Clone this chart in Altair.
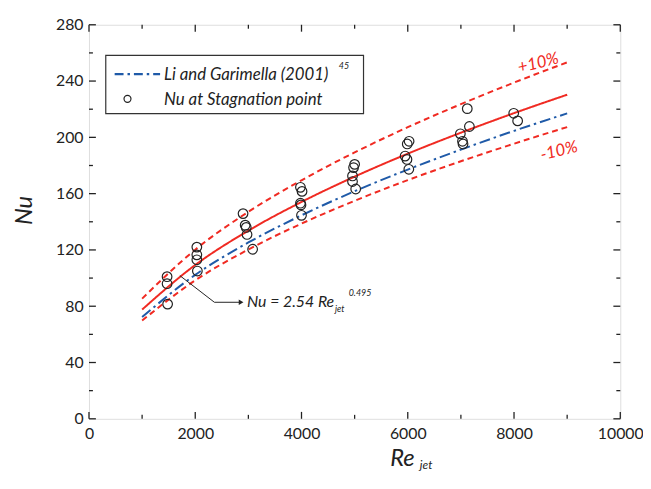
import altair as alt
import pandas as pd

# ---------------- data ----------------
curve_re = [1000, 2000, 3000, 4000, 5000, 6000, 7000, 8000, 9000]
nu_fit = [77.6, 109.3, 133.7, 154.1, 172.1, 188.4, 203.3, 217.2, 230.3]
nu_plus10 = [85.4, 120.2, 147.1, 169.5, 189.3, 207.2, 223.6, 238.9, 253.3]
nu_minus10 = [69.8, 98.4, 120.3, 138.7, 154.9, 169.6, 183.0, 195.5, 207.3]
nu_li = [72.3, 102.3, 125.3, 144.6, 161.7, 177.1, 191.3, 204.6, 217.0]

pts_re = [1470, 1470, 1480,
          2030, 2030, 2030, 2040,
          2900, 2940, 2960, 2975, 3080,
          3980, 4010, 3980, 3990, 4000,
          5000, 4980, 4960, 4960, 5020,
          6025, 5990, 5950, 5985, 6020,
          6990, 7030, 7040, 7120, 7160,
          7994, 8068]
pts_nu = [101.0, 96.0, 81.5,
          122.0, 116.5, 113.0, 105.0,
          145.8, 137.6, 136.0, 131.0, 120.5,
          164.5, 161.6, 153.2, 152.0, 144.6,
          180.8, 178.5, 172.6, 168.6, 163.3,
          197.2, 195.3, 186.7, 184.3, 177.3,
          202.5, 197.2, 195.3, 220.4, 207.7,
          217.1, 211.7]

x_major = [0, 2000, 4000, 6000, 8000, 10000]
x_minor = [1000, 3000, 5000, 7000, 9000]
y_major = [0, 40, 80, 120, 160, 200, 240, 280]
y_minor = [20, 60, 100, 140, 180, 220, 260]

W, H = 538, 399
FONT = "Lato"
RED = "#f02a22"
BLUE = "#1f5aa8"

xs = alt.Scale(domain=[0, 10000], nice=False, zero=False)
ys = alt.Scale(domain=[0, 280], nice=False, zero=False)

curves = pd.DataFrame({"Re": curve_re, "fit": nu_fit, "plus": nu_plus10,
                       "minus": nu_minus10, "li": nu_li})
pts = pd.DataFrame({"Re": pts_re, "Nu": pts_nu})

base_axis_x = alt.Axis(values=x_major, ticks=False, domain=False, grid=False,
                       labelFont=FONT, labelFontSize=16, labelColor="#222",
                       labelPadding=7, title=None, format="d", labelFlush=False)
base_axis_y = alt.Axis(values=y_major, ticks=False, domain=False, grid=False,
                       labelFont=FONT, labelFontSize=16, labelColor="#222",
                       labelPadding=6, title=None, format="d", labelFlush=False)

def curve(col, color, dash, axes=False):
    return alt.Chart(curves).mark_line(
        color=color, strokeWidth=2, strokeDash=dash, interpolate="monotone"
    ).encode(
        x=alt.X("Re:Q", scale=xs, axis=base_axis_x if axes else None),
        y=alt.Y(f"{col}:Q", scale=ys, axis=base_axis_y if axes else None),
    )

fit = curve("fit", RED, [1, 0], axes=True)
plus = curve("plus", RED, [6, 4])
minus = curve("minus", RED, [6, 4])
li = curve("li", BLUE, [11, 4, 2.5, 4])

points = alt.Chart(pts).mark_point(
    shape="circle", filled=False, size=95, stroke="#222", strokeWidth=1.2, opacity=1
).encode(x=alt.X("Re:Q", scale=xs, axis=None), y=alt.Y("Nu:Q", scale=ys, axis=None))

# inward ticks on all four sides
def xticks(vals, y0, y1):
    return alt.Chart(pd.DataFrame({"Re": vals})).mark_rule(color="#222", strokeWidth=1.3).encode(
        x=alt.X("Re:Q", scale=xs, axis=None), y=alt.value(y0), y2=alt.value(y1))

def yticks(vals, x0, x1):
    return alt.Chart(pd.DataFrame({"Nu": vals})).mark_rule(color="#222", strokeWidth=1.3).encode(
        y=alt.Y("Nu:Q", scale=ys, axis=None), x=alt.value(x0), x2=alt.value(x1))

ticks = [
    xticks(x_major, H, H - 7), xticks(x_minor, H, H - 4),
    xticks(x_major, 0, 7), xticks(x_minor, 0, 4),
    yticks(y_major, 0, 7), yticks(y_minor, 0, 4),
    yticks(y_major, W, W - 7), yticks(y_minor, W, W - 4),
]

# legend box
leg_box = alt.Chart(pd.DataFrame({"a": [0]})).mark_rect(
    fill="white", stroke="#333", strokeWidth=1.2
).encode(x=alt.value(17), x2=alt.value(278), y=alt.value(31), y2=alt.value(90))
leg_line = alt.Chart(pd.DataFrame({"a": [0]})).mark_rule(
    color=BLUE, strokeWidth=2.2, strokeDash=[9, 4, 2.5, 4]
).encode(x=alt.value(26), x2=alt.value(72), y=alt.value(50))
leg_pt = alt.Chart(pd.DataFrame({"a": [0]})).mark_point(
    shape="circle", filled=False, size=50, stroke="#222", strokeWidth=1.2, opacity=1
).encode(x=alt.value(39), y=alt.value(75))

def txt(s, x, y, size=17, italic=True, color="#222", align="left", angle=0, baseline="middle"):
    kw = dict(font=FONT, fontSize=size, color=color, align=align, baseline=baseline)
    if italic:
        kw["fontStyle"] = "italic"
    if angle:
        kw["angle"] = angle
    return alt.Chart(pd.DataFrame({"t": [s]})).mark_text(**kw).encode(
        text="t:N", x=alt.value(x), y=alt.value(y))

texts = [
    txt("Li and Garimella (2001)", 76, 51),
    txt("45", 253, 42, size=9),
    txt("Nu at Stagnation point", 76, 76),
    txt("+10%", 455, 39, color=RED, align="center", angle=346),
    txt("-10%", 476, 128, color=RED, align="center", angle=346),
    txt("Nu = 2.54 Re", 160, 281, size=16),
    txt("jet", 249, 288, size=9),
    txt("0.495", 263, 272, size=9),
    txt("Re", 305, 440, size=24, align="left"),
    txt("jet", 335, 446, size=12),
    txt("Nu", -65, 188, size=24, align="center", angle=270),
]

# annotation arrow
arrow_pts = pd.DataFrame({"px": [92, 127, 152], "py": [254, 281, 281], "o": [0, 1, 2]})
arrow_line = alt.Chart(arrow_pts).mark_line(color="#222", strokeWidth=1).encode(
    x=alt.X("px:Q", scale=alt.Scale(domain=[0, W], nice=False, zero=False), axis=None),
    y=alt.Y("py:Q", scale=alt.Scale(domain=[0, H], nice=False, zero=False, reverse=True), axis=None),
    order="o:Q")
arrow_head = alt.Chart(pd.DataFrame({"a": [0]})).mark_point(
    shape="triangle-right", filled=True, size=30, color="#222", opacity=1
).encode(x=alt.value(154), y=alt.value(281))

chart = alt.layer(
    fit, plus, minus, li, points, *ticks,
    leg_box, leg_line, leg_pt, arrow_line, arrow_head, *texts
).resolve_scale(x="independent", y="independent").properties(
    width=W, height=H,
    autosize=alt.AutoSizeParams(type="none"),
    padding={"left": 82, "top": 14, "right": 23, "bottom": 60},
).configure_view(stroke="#222", strokeWidth=1.5).configure(background="white")

chart.save("out.html", embed_options={"renderer": "svg", "actions": False})
